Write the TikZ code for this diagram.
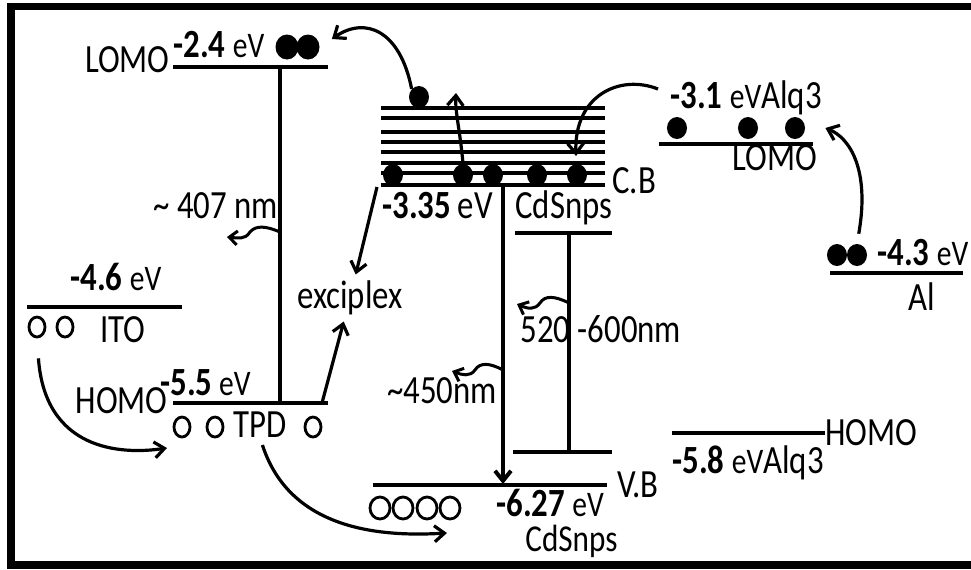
\documentclass[tikz,border=0pt]{standalone}
\usepackage{fontspec}
\setmainfont{Carlito}[FakeStretch=0.82]
\usetikzlibrary{arrows.meta,shapes.geometric}
\tikzset{
  level/.style={line width=2.4pt},
  band/.style={line width=1.9pt},
  trans/.style={line width=2pt},
  carrow/.style={-{Straight Barb[length=5pt,width=8pt]}, line width=1.6pt},
  warrow/.style={-{Straight Barb[length=4pt,width=7pt]}, line width=1.5pt},
  elec/.style={ellipse, fill=black, inner sep=0pt, minimum width=10pt, minimum height=11pt},
  hole/.style={ellipse, draw=black, line width=1.4pt, inner sep=0pt, minimum width=8pt, minimum height=10pt},
  lbl/.style={font=\fontsize{20}{22}\selectfont, inner sep=0pt, anchor=base west}
}
\newcommand{\nv}[1]{{\bfseries #1}}
\newcommand{\evu}{{\fontsize{18}{20}\selectfont eV}}

\begin{document}
\begin{tikzpicture}[x=0.5pt,y=-0.5pt]
\useasboundingbox (0,0) rectangle (971,569);
\clip (0,0) rectangle (971,569);
\draw[line width=3.8pt] (11,6.5) rectangle (990,565);

% TPD
\draw[level] (173,67) -- (328,67);
\draw[level] (173,403) -- (328,403);
\draw[trans] (280,67) -- (280,403);
\node[lbl, anchor=base east] (tpdlomo) at (170,72) {LOMO};
\node[lbl] (tpdle) at (173,57) {\nv{-2.4} \evu};
\node[elec, minimum width=11.5pt, minimum height=12.5pt] (tpdd1) at (287,47) {};
\node[elec, minimum width=11.5pt, minimum height=12.5pt] (tpdd2) at (308,47) {};
\node[lbl, anchor=base east] (tpdhomo) at (168,413) {HOMO};
\node[lbl] (tpdhe) at (160,395) {\nv{-5.5}\,\evu};
\node[hole] (tpdh1) at (182,427) {};
\node[hole] (tpdh2) at (215,427) {};
\node[lbl] (tpd) at (233,437) {TPD};
\node[hole] (tpdh3) at (313,427) {};
\node[lbl] (n407) at (153,218) {\textasciitilde{} 407 nm};
\coordinate (tpdhR) at (322,403);

% ITO
\draw[level] (27,307) -- (182,307);
\node[lbl] (itoe) at (70,290) {\nv{-4.6} \evu};
\node[hole] (itoh1) at (37,327) {};
\node[hole] (itoh2) at (65,327) {};
\node[lbl] (ito) at (100,342) {ITO};

% CdS nps bands
\foreach \yy in {108,118,132,142,152,163,173,185}
  \draw[band] (381,\yy) -- (605,\yy);
\foreach \xx [count=\i] in {393,463,493,537,577}
  \node[elec] (cbd\i) at (\xx,175) {};
\node[elec] (cbtop) at (419,97) {};
\node[lbl] (cbe) at (382,218) {\nv{-3.35}\,{\fontsize{20}{22}\selectfont eV}};
\node[lbl] (cds1) at (515,218) {CdSnps};
\node[lbl] (cb) at (612,193) {C.B};
\coordinate (cbbot) at (503,185);
\coordinate (vbtop) at (503,484);
\draw[trans] (515,233) -- (612,233);
\draw[trans] (513,452) -- (612,452);
\draw[trans] (569,233) -- (569,452);
\draw[level] (373,485) -- (607,485);
\node[lbl] (vb) at (617,497) {V.B};
\node[lbl] (vbe) at (496,516) {\nv{-6.27} \evu};
\node[lbl] (cds2) at (525,551) {\fontsize{19}{21}\selectfont CdSnps};
\foreach \xx [count=\i] in {380,403,427,450}
  \node[hole, minimum width=10pt, minimum height=11pt] (vbh\i) at (\xx,508) {};
\node[lbl] (n520) at (520,342) {520 -600nm};
\node[lbl] (n450) at (387,403) {\textasciitilde450nm};
\node[lbl, anchor=center, inner sep=3pt] (exc) at (350,298) {exciplex};

% Alq3 and Al
\draw[level] (659,144) -- (813,144);
\node[lbl] (alqle) at (670,108) {\nv{-3.1} \evu{}Alq3};
\foreach \xx [count=\i] in {677,748,795}
  \node[elec] (alqd\i) at (\xx,128) {};
\node[lbl] (alqlomo) at (732,170) {LOMO};
\draw[level] (672,433) -- (825,433);
\node[lbl] (alqhomo) at (825,445) {HOMO};
\node[lbl] (alqhe) at (672,473) {\nv{-5.8} \evu{}Alq3};
\draw[level] (830,273) -- (963,273);
\node[elec] (ald1) at (837,255) {};
\node[elec] (ald2) at (857,255) {};
\node[lbl] (ale) at (877,265) {\nv{-4.3} \evu};
\node[lbl] (al) at (908,310) {Al};
\coordinate (alqsrc) at (658,89);
\coordinate (cbsrc) at (377,187);

% transfers
\draw[carrow] (cbtop.north west) .. controls (400,30) and (365,16) .. ([shift={(12,-8)}]tpdd2.east);
\draw[carrow] (cbd2.north) .. controls (460,130) and (455,112) .. (456,93);
\draw[carrow] (alqsrc) .. controls (620,74) and (574,95) .. (576,156);
\draw[carrow, shorten <=5pt] (ald2.north) .. controls (870,170) and (850,138) .. ([xshift=10pt]alqd3.east);
\draw[carrow, shorten <=10pt] (itoh1.south) .. controls (45,450) and (120,455) .. (167,448);
\draw[carrow, shorten <=4pt] (tpd.south) .. controls (290,530) and (380,537) .. (447,533);
\draw[carrow] (cbsrc) -- (exc);
\draw[carrow] (tpdhR) -- (exc);
\draw[trans, -{Straight Barb[length=5pt,width=8pt]}] (cbbot) -- (vbtop);

% emission
\draw[warrow] (280,232) .. controls (266,226) and (256,225) .. (250,232) .. controls (245,240) and (238,238) .. (227,237);
\draw[warrow] (569,303) .. controls (555,296) and (545,295) .. (540,303) .. controls (535,310) and (528,309) .. (517,304);
\draw[warrow] (503,370) .. controls (490,363) and (480,362) .. (475,370) .. controls (470,377) and (462,375) .. (452,371);
\end{tikzpicture}
\end{document}
